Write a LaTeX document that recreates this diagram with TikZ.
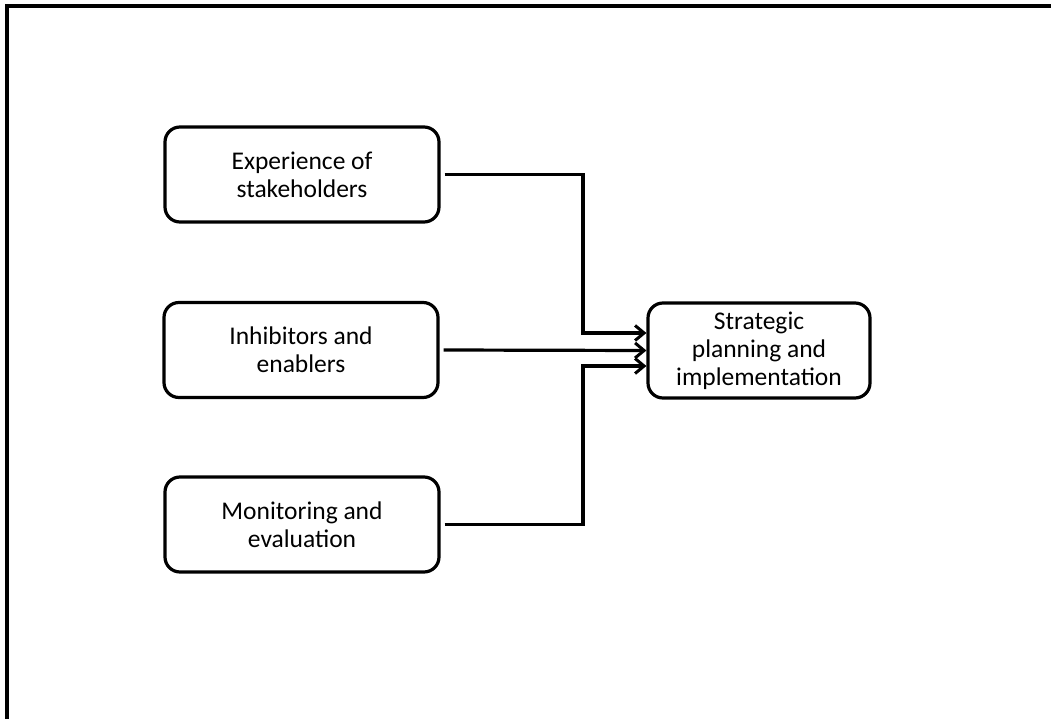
\documentclass[tikz,border=0pt]{standalone}
\usepackage{fontspec}
\setmainfont{Carlito}
\usetikzlibrary{arrows.meta,calc}
\begin{document}
\begin{tikzpicture}[x=1pt,y=-1pt,
  box/.style={draw, line width=3.2pt, rounded corners=15pt, minimum height=95pt,
    align=center, inner sep=0pt, font=\fontsize{25.5}{28}\selectfont},
  lbox/.style={box, minimum width=274pt},
  conn/.style={line width=3.2pt, -{Straight Barb[length=9pt,width=15pt,line width=3pt]}},
  plain/.style={line width=3.2pt}]
\useasboundingbox (0,0) rectangle (1051,719);
\draw[plain] (7,719) -- (7,6) -- (1051,6);
\node[lbox] (e) at (302,174.5) {Experience of\\stakeholders};
\node[lbox] (i) at (301,350) {Inhibitors and\\enablers};
\node[lbox] (m) at (302,524.5) {Monitoring and\\evaluation};
\node[box, minimum width=222pt] (s) at (759,350.5) {Strategic\\planning and\\implementation};
\coordinate (j) at (583,0);
\draw[conn] ($(e.east)+(4,0)$) -| (j |- 0,333) -- ($(s.west)+(0,-17.5)$);
\draw[conn] ($(i.east)+(4,0)$) -- (s.west);
\draw[conn] ($(m.east)+(4,0)$) -| (j |- 0,366) -- ($(s.west)+(0,15.5)$);
\end{tikzpicture}
\end{document}
